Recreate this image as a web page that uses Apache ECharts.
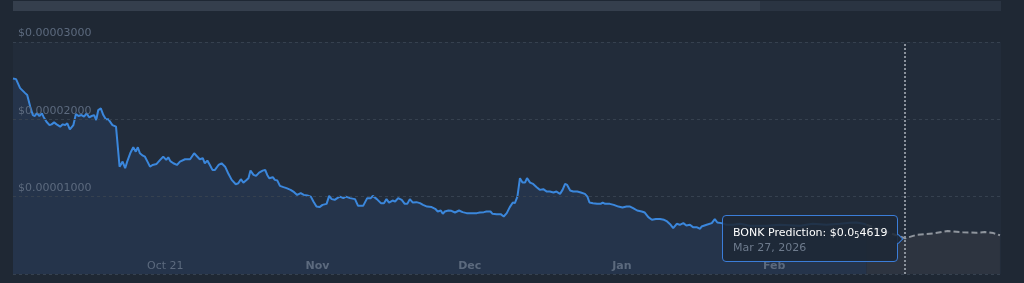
<!DOCTYPE html>
<html>
<head>
<meta charset="utf-8">
<script src="https://cdn.jsdelivr.net/npm/echarts@6/dist/echarts.min.js"></script>
<style>
html,body{margin:0;padding:0;background:#1f2834;}
#chart{width:1024px;height:283px;}
</style>
</head>
<body>
<div id="chart"></div>
<script>
// x values: days from start of shown window; y values: BONK price in USD
const historyDays = [
  0,0.6,1.4,2.4,2.8,3.4,3.9,4.3,4.7,5.2,5.7,6.0,6.6,7.2,7.6,8.1,8.6,9.3,9.8,10.3,10.7,11.2,11.9,12.4,12.9,13.5,14.0,14.5,15.0,15.5,16.0,16.4,16.8,17.3,17.8,18.3,18.8,19.1,19.6,20.3,20.6,
  21.0,21.3,21.6,22.1,22.5,23.1,23.7,24.2,24.6,25.0,25.6,26.0,26.5,27.0,27.5,28.3,29.0,29.6,30.2,30.6,31.0,31.6,32.3,32.9,33.9,34.9,35.7,36.2,36.8,37.4,37.8,38.3,38.8,39.3,39.8,
  40.5,41.1,41.8,42.4,43.1,43.9,44.4,44.9,45.4,45.9,46.4,46.8,47.4,47.9,48.5,49.2,49.7,50.1,50.5,51.2,51.6,52.1,52.6,53.3,53.9,54.7,55.4,56.0,56.7,57.3,58.0,58.7,59.2,59.8,
  60.4,61.0,61.8,62.3,62.8,63.4,63.9,64.4,65.1,65.6,66.4,67.4,68.0,69.0,69.8,70.5,70.9,71.7,72.5,73.1,73.6,74.1,74.8,75.3,75.9,76.6,77.2,77.7,78.2,78.8,79.5,
  80.2,80.8,81.6,82.5,83.2,83.7,84.3,84.7,85.1,85.8,86.4,87.1,87.9,88.6,89.4,90.4,91.4,92.0,92.8,93.3,94.1,94.5,95.3,96.1,96.7,97.3,97.9,98.5,98.9,99.4,99.9,
  100.4,100.9,101.3,101.9,102.5,103.2,103.8,104.5,105.2,105.8,106.5,107.1,107.8,108.3,108.8,109.2,109.8,110.4,111.2,111.9,112.7,113.2,113.6,114.3,115.1,115.8,116.2,116.7,117.6,118.4,119.3,
  120.1,120.9,121.6,122.2,123.0,123.9,124.5,125.2,125.9,126.7,127.5,128.3,128.9,129.6,130.1,130.8,131.4,132.1,132.7,133.4,134.0,134.7,135.4,135.7,136.7,137.7,138.3,138.8,139.6,
  140.6,141.9,143.3,145.2,148.5,151.1,155.1,157.6,160.3,163.0,164.9,166.2,167.6,168.2
];
const historyPrices = [
  2.529e-5,2.520e-5,2.404e-5,2.339e-5,2.314e-5,2.163e-5,2.055e-5,2.043e-5,2.081e-5,2.043e-5,2.077e-5,2.034e-5,1.969e-5,1.926e-5,1.935e-5,1.961e-5,1.935e-5,1.905e-5,1.935e-5,1.926e-5,1.948e-5,1.871e-5,1.926e-5,2.068e-5,2.043e-5,2.055e-5,2.034e-5,2.077e-5,2.026e-5,2.043e-5,2.055e-5,1.991e-5,2.120e-5,2.142e-5,2.055e-5,2.000e-5,2.000e-5,1.991e-5,1.926e-5,1.905e-5,1.884e-5,
  1.388e-5,1.410e-5,1.453e-5,1.368e-5,1.453e-5,1.561e-5,1.639e-5,1.582e-5,1.639e-5,1.561e-5,1.530e-5,1.517e-5,1.453e-5,1.388e-5,1.410e-5,1.423e-5,1.475e-5,1.517e-5,1.475e-5,1.510e-5,1.460e-5,1.432e-5,1.410e-5,1.453e-5,1.484e-5,1.484e-5,1.561e-5,1.526e-5,1.484e-5,1.497e-5,1.432e-5,1.466e-5,1.410e-5,1.346e-5,1.346e-5,
  1.410e-5,1.432e-5,1.388e-5,1.303e-5,1.217e-5,1.161e-5,1.174e-5,1.226e-5,1.182e-5,1.208e-5,1.239e-5,1.337e-5,1.281e-5,1.268e-5,1.311e-5,1.337e-5,1.346e-5,1.281e-5,1.239e-5,1.252e-5,1.217e-5,1.208e-5,1.139e-5,1.123e-5,1.110e-5,1.088e-5,1.058e-5,1.023e-5,1.045e-5,1.023e-5,1.014e-5,1.001e-5,0.937e-5,0.872e-5,
  0.865e-5,0.894e-5,0.907e-5,1.010e-5,0.968e-5,0.959e-5,0.981e-5,1.001e-5,0.981e-5,1.001e-5,0.981e-5,0.968e-5,0.881e-5,0.881e-5,0.981e-5,0.981e-5,1.010e-5,0.968e-5,0.916e-5,0.916e-5,0.968e-5,0.924e-5,0.950e-5,0.937e-5,0.981e-5,0.959e-5,0.907e-5,0.907e-5,0.968e-5,0.924e-5,0.929e-5,
  0.916e-5,0.894e-5,0.872e-5,0.865e-5,0.843e-5,0.808e-5,0.821e-5,0.778e-5,0.808e-5,0.821e-5,0.817e-5,0.795e-5,0.821e-5,0.800e-5,0.787e-5,0.787e-5,0.787e-5,0.795e-5,0.800e-5,0.808e-5,0.808e-5,0.778e-5,0.774e-5,0.774e-5,0.743e-5,0.787e-5,0.865e-5,0.924e-5,0.916e-5,1.001e-5,1.239e-5,
  1.182e-5,1.182e-5,1.239e-5,1.182e-5,1.165e-5,1.123e-5,1.088e-5,1.097e-5,1.066e-5,1.066e-5,1.053e-5,1.066e-5,1.036e-5,1.088e-5,1.165e-5,1.152e-5,1.079e-5,1.066e-5,1.066e-5,1.053e-5,1.036e-5,1.001e-5,0.924e-5,0.916e-5,0.907e-5,0.907e-5,0.924e-5,0.907e-5,0.907e-5,0.894e-5,0.872e-5,
  0.859e-5,0.872e-5,0.872e-5,0.852e-5,0.821e-5,0.808e-5,0.795e-5,0.735e-5,0.701e-5,0.710e-5,0.710e-5,0.701e-5,0.679e-5,0.636e-5,0.594e-5,0.649e-5,0.636e-5,0.658e-5,0.627e-5,0.636e-5,0.606e-5,0.606e-5,0.585e-5,0.614e-5,0.636e-5,0.658e-5,0.710e-5,0.666e-5,0.658e-5,
  0.636e-5,0.636e-5,0.649e-5,0.623e-5,0.623e-5,0.636e-5,0.623e-5,0.649e-5,0.636e-5,0.649e-5,0.662e-5,0.666e-5,0.649e-5,0.636e-5
];
const predictionDays = [168.2, 175.8, 178.1, 181.3, 184.2, 187.2, 189.8, 191.5, 193.2, 194.5];
const predictionPrices = [0.636e-5, 0.4619e-5, 0.507e-5, 0.524e-5, 0.555e-5, 0.539e-5, 0.533e-5, 0.543e-5, 0.529e-5, 0.501e-5];

const tickDays = [30, 60, 90, 120, 150];
const tickLabels = ['Oct 21', 'Nov', 'Dec', 'Jan', 'Feb'];
const tickBold = [false, true, true, true, true];
const xMax = 194.7;
const yMax = 3e-5;
const yStep = 1e-5;

const tipIndex = 1;
const tipName = 'BONK Prediction';
const tipDate = 'Mar 27, 2026';
const markerDay = predictionDays[tipIndex];

function fmtSmall(v) {
  const s = v.toFixed(14);
  const dec = s.split('.')[1];
  let n = 0;
  while (dec[n] === '0') n++;
  const digits = dec.slice(n, n + 4);
  if (n >= 4) return '$0.0<sub style="font-size:8px;vertical-align:-2px;">' + (n) + '</sub>' + digits;
  return '$' + v.toFixed(n + 4);
}

const chart = echarts.init(document.getElementById('chart'), null, {renderer: 'canvas'});
const FONT = 'DejaVu Sans';
const labelColor = '#5c6a7e';

chart.setOption({
  backgroundColor: '#1f2834',
  animation: false,
  textStyle: {fontFamily: FONT},
  graphic: [
    {type: 'rect', left: 13, top: 1, shape: {width: 988, height: 10}, style: {fill: '#2a3442'}, silent: true},
    {type: 'rect', left: 13, top: 1, shape: {width: 747, height: 10}, style: {fill: '#353f4d'}, silent: true}
  ],
  grid: {left: 13, right: 23, top: 42, bottom: 9, show: true, backgroundColor: '#222c3a', borderWidth: 0},
  tooltip: {
    trigger: 'item',
    triggerOn: 'none',
    alwaysShowContent: true,
    position: 'left',
    transitionDuration: 0,
    backgroundColor: 'rgba(30,40,54,0.88)',
    borderColor: '#3b7dd8',
    borderWidth: 1,
    borderRadius: 4,
    padding: [11, 10, 7, 10],
    textStyle: {color: '#ffffff', fontSize: 11, fontFamily: FONT},
    extraCssText: 'box-shadow:none;margin-left:3px;',
    formatter: function (p) {
      return '<div style="line-height:12px;color:#fff;white-space:nowrap;">' + tipName + ': ' + fmtSmall(p.value[1]) + '</div>' +
             '<div style="line-height:12px;color:#6e7b8d;">' + tipDate + '</div>';
    }
  },
  xAxis: {
    type: 'value',
    min: 0,
    max: xMax,
    interval: 30,
    z: 5,
    axisLine: {show: false},
    axisTick: {show: false},
    splitLine: {show: false},
    axisLabel: {
      inside: true,
      margin: 2,
      showMinLabel: false,
      showMaxLabel: false,
      color: labelColor,
      fontSize: 11,
      fontFamily: FONT,
      formatter: function (v) {
        const i = tickDays.indexOf(v);
        if (i < 0) return '';
        return tickBold[i] ? '{b|' + tickLabels[i] + '}' : tickLabels[i];
      },
      rich: {b: {fontWeight: 'bold', color: labelColor, fontSize: 11, fontFamily: FONT}}
    }
  },
  yAxis: {
    type: 'value',
    min: 0,
    max: yMax,
    interval: yStep,
    axisLine: {show: false},
    axisTick: {show: false},
    splitLine: {show: true, lineStyle: {color: '#36414f', type: [3, 3], width: 1}},
    axisLabel: {
      inside: true,
      margin: 5,
      showMinLabel: false,
      color: labelColor,
      fontSize: 11,
      fontFamily: FONT,
      verticalAlign: 'bottom',
      padding: [0, 0, 3, 0],
      formatter: function (v) { return '$' + v.toFixed(8); }
    },
    z: 5
  },
  series: [
    {
      name: 'BONK',
      type: 'line',
      data: historyDays.map((d, i) => [d, historyPrices[i]]),
      showSymbol: false,
      smooth: false,
      lineStyle: {color: '#3b87dc', width: 2},
      areaStyle: {color: '#25344b', opacity: 1},
      z: 2
    },
    {
      name: tipName,
      type: 'line',
      data: predictionDays.map((d, i) => [d, predictionPrices[i]]),
      showSymbol: true,
      symbol: 'circle',
      symbolSize: 0,
      itemStyle: {opacity: 0},
      lineStyle: {color: '#8f959d', width: 2, type: [6, 3]},
      areaStyle: {color: '#2d3440', opacity: 1},
      z: 2,
      markLine: {
        silent: true,
        symbol: 'none',
        label: {show: false},
        lineStyle: {color: '#8b929c', type: 'dotted', width: 2},
        data: [{xAxis: markerDay}],
        animation: false
      }
    }
  ]
});

chart.dispatchAction({type: 'showTip', seriesIndex: 1, dataIndex: tipIndex});
</script>
</body>
</html>
